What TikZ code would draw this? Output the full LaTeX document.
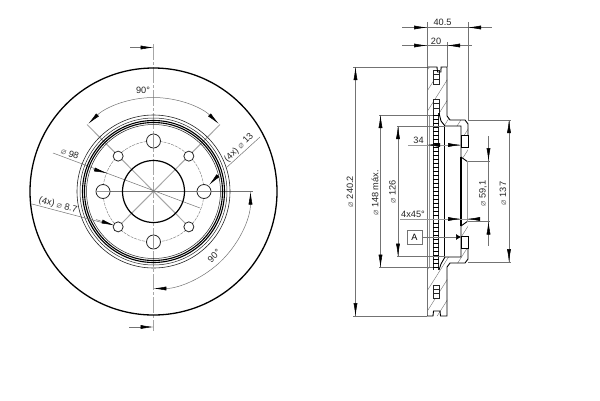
\documentclass[tikz,border=0pt]{standalone}
\usepackage{fontspec}
\setmainfont{Liberation Sans}
\newfontfamily\symfont{DejaVu Sans}
\usetikzlibrary{arrows.meta,calc}
\newcommand{\dia}{{\symfont\fontsize{9}{9}\selectfont\color{black!55}⌀}}
\tikzset{
  dimline/.style={draw=black!55,line width=0.5pt},
  dimarrow/.style={draw=black!55,line width=0.5pt,-{Latex[length=13pt,width=4pt,black]}},
  axisline/.style={draw=black!35,line width=1pt},
  dashaxis/.style={draw=black!35,line width=1.1pt,dash pattern=on 16pt off 2pt on 3pt off 2pt},
  pitch/.style={draw=black!50,line width=0.45pt,dash pattern=on 3pt off 1pt},
  contour/.style={draw=black,line width=0.9pt},
  heavy/.style={draw=black,line width=1.6pt},
  thin contour/.style={draw=black!85,line width=0.6pt},
  hatchline/.style={draw=black!55,line width=0.4pt},
  dimtext/.style={font=\fontsize{9.2}{10}\selectfont,text=black!85,inner sep=0pt},
}
\begin{document}
\begin{tikzpicture}[x=1pt,y=-1pt]
\useasboundingbox[fill=white] (0,0) rectangle (600,400);
\coordinate (c) at (153.5,191.5);
% ---------- axes of the front view
\draw[dashaxis] (153.5,44) -- (153.5,331);
\draw[axisline] (87,124.5) -- (189,227);
\draw[axisline] (220,124.5) -- (118,227);
\draw[dimline] (53,153) -- (200,208);
\draw[dimline] (96,191.5) -- (253,191.5);
% pitch circle
\draw[pitch] (c) circle[radius=50.5];
% ---------- disc
\draw[contour,line width=1.3pt] (c) circle[radius=123.5];
\draw[thin contour] (c) circle[radius=76.5];
\draw[thin contour,line width=0.5pt] (c) circle[radius=73.5];
\draw[heavy,line width=1.1pt] (c) circle[radius=71];
\draw[heavy,line width=1.1pt] (c) circle[radius=69];
\draw[thin contour,line width=0.5pt] (c) circle[radius=67];
\draw[contour,line width=1.2pt] (c) circle[radius=31];
\foreach \a in {0,90,180,270}
  \draw[thin contour,line width=0.8pt,fill=white] ($(c)+(\a:50.5)$) circle[radius=7];
\foreach \a in {45,135,225,315}
  \draw[thin contour,line width=0.8pt,fill=white] ($(c)+(\a:50)$) circle[radius=5];
\draw[dimline,draw=black!40] (96,191.5) -- (110,191.5) (197,191.5) -- (211,191.5) (153.5,134) -- (153.5,148) (153.5,235) -- (153.5,249);
% ---------- section arrows
\draw[dimarrow] (130,47.5) -- (153.5,47.5);
\draw[dimarrow] (129,327) -- (153.5,327);
% ---------- 90 top
\draw[dimarrow] (153.5,97.5) arc[start angle=-90,end angle=-134,radius=94];
\draw[dimarrow] (153.5,97.5) arc[start angle=-90,end angle=-46,radius=94];
\node[dimtext] (ninetytop) at (143,90.5) {90°};
% ---------- 90 bottom
\draw[dimarrow] (219.65,262.44) arc[start angle=47,end angle=0,radius=97];
\draw[dimarrow] (219.65,262.44) arc[start angle=47,end angle=90,radius=97];
\node[dimtext,rotate=45] (ninetybot) at (214,256) {90°};
% ---------- leaders
\draw[dimarrow] (93,169) -- (107,173.2);
\node[dimtext,rotate=-20] (d98) at (70,153.5) {\dia\ 98};
\draw[dimline] (32,204) -- (102,222.5);
\draw[dimarrow] (96,219.5) -- (114.5,225.5);
\node[dimtext,rotate=-15] (d87) at (58,205) {(4x) \dia\ 8.7};
\draw[dimline] (260,137) -- (226,168);
\draw[dimarrow] (221,172.5) -- (209,185);
\node[dimtext,rotate=45] (d13) at (239,148) {(4x) \dia\ 13};
% ---------- section: hatching
\begin{scope}
\clip (427,67) -- (447,67) -- (447,116) -- (450,120) -- (465,120) -- (468,124) -- (468,135) -- (461,135) -- (461,126) -- (445,126) -- (441,121) -- (439,113) -- (433,113) -- (433,115) -- (427,115) -- cycle
  (461,147) -- (468,147) -- (468,162) -- (461,155) -- cycle
  (427,316) -- (447,316) -- (447,267) -- (450,263) -- (465,263) -- (468,259) -- (468,248) -- (461,248) -- (461,257) -- (445,257) -- (441,264) -- (439,270) -- (433,270) -- (433,268) -- (427,268) -- cycle
  (461,236) -- (468,236) -- (468,221) -- (461,228) -- cycle;
\foreach \k in {0,...,16}
  \draw[hatchline] (300+\k*13,210) -- ++(120,-190);
\foreach \k in {0,...,16}
  \draw[hatchline] (370+\k*13,340) -- ++(100,-158);
\end{scope}
% ---------- section: vents and ladder
\foreach \ya/\yb in {70/84,99/113,285/298}{
  \fill[white] (433,\ya) rectangle (439,\yb);
  \draw[thin contour,line width=0.7pt] (433,\ya) rectangle (439,\yb);
  \draw[thin contour,line width=0.5pt] (433,\ya+4.5) -- (439,\ya+4.5) (433,\yb-4.5) -- (439,\yb-4.5);
}
\fill[white] (433,113) rectangle (439,270);
\draw[thin contour,line width=0.9pt] (433,113) -- (433,270) (438.5,113) -- (438.5,270);
\foreach \k in {0,...,38}
  \draw[black,line width=0.7pt] (433,115+\k*4) -- (438.5,115+\k*4);
% ---------- section: contours
\draw[axisline,line width=1.1pt,black!55] (427.5,67) -- (427.5,316);
\draw[axisline,line width=1pt,black!40] (429.5,115) -- (429.5,268);
\draw[contour] (427,67) -- (437,67) -- (437.5,72) -- (441,72) -- (441,67) -- (447,67) -- (447,116) -- (450,120) -- (465,120) -- (468,124) -- (468,135);
\draw[contour] (427,316) -- (433,316) -- (433.5,311) -- (440,311) -- (440.5,316) -- (447,316) -- (447,267) -- (450,263) -- (465,263) -- (468,259) -- (468,248);
\draw[contour] (439,113) -- (441,121) -- (445,126) -- (461,126) -- (461,157) -- (468,162);
\draw[contour] (439,270) -- (441,264) -- (445,257) -- (461,257) -- (461,226) -- (468,221);
\draw[heavy] (461,157) -- (461,226);
\draw[contour] (444.5,126) -- (444.5,257);
\draw[contour] (461,135) rectangle (468,147);
\draw[contour] (461,236) rectangle (468,248);
\draw[axisline,line width=1.4pt,black!40] (467.5,161) -- (467.5,222);
% ---------- dimensions above
\draw[dimline] (427,22) -- (427,67);
\draw[dimline] (468,22) -- (468,120);
\draw[dimline] (447,42) -- (447,67);
\draw[dimline] (402,27.5) -- (492,27.5);
\draw[dimarrow] (413,27.5) -- (427,27.5);
\draw[dimarrow] (481,27.5) -- (468,27.5);
\node[dimtext] (d405) at (442.5,22.5) {40.5};
\draw[dimline] (402,45.5) -- (472,45.5);
\draw[dimarrow] (413,45.5) -- (427,45.5);
\draw[dimarrow] (460,45.5) -- (447,45.5);
\node[dimtext] (d20) at (436,41) {20};
% ---------- vertical dimensions left
\draw[dimline] (353,67) -- (427,67);
\draw[dimline] (353,316) -- (427,316);
\draw[dimline] (355.5,67) -- (355.5,316);
\draw[dimarrow] (355.5,81) -- (355.5,67);
\draw[dimarrow] (355.5,302) -- (355.5,316);
\node[dimtext,rotate=90] (d240) at (350,191.5) {\dia\ 240.2};
\draw[dimline] (379,115) -- (433,115);
\draw[dimline] (379,267.5) -- (433,267.5);
\draw[dimline] (380.5,115) -- (380.5,267.5);
\draw[dimarrow] (380.5,129) -- (380.5,115);
\draw[dimarrow] (380.5,254) -- (380.5,267.5);
\node[dimtext,rotate=90] (d148) at (375,193) {\dia\ 148 máx.};
\draw[dimline] (397,126) -- (445,126);
\draw[dimline] (397,256.5) -- (445,256.5);
\draw[dimline] (398,126) -- (398,256.5);
\draw[dimarrow] (398,139) -- (398,126);
\draw[dimarrow] (398,243) -- (398,256.5);
\node[dimtext,rotate=90] (d126) at (392.5,192) {\dia\ 126};
% ---------- 34
\draw[dimline,draw=black!40] (408,145) -- (461,145);
\draw[dimarrow] (439,145) -- (427,145);
\draw[dimarrow] (449,145) -- (461,145);
\node[dimtext] (d34) at (418.5,140) {34};
% ---------- 4x45
\draw[dimline,draw=black!40] (400,219) -- (478,219);
\draw[dimarrow] (449,219) -- (461,219);
\draw[dimarrow] (479,219) -- (467,219);
\node[dimtext] (d445) at (413,214) {4x45°};
% ---------- A
\node[draw=black!55,line width=0.6pt,minimum width=15pt,minimum height=14pt,inner sep=0pt,font=\fontsize{9.2}{10}\selectfont] (boxa) at (414.5,237) {A};
\coordinate (atip) at (461,237);
\draw[draw=black!55,line width=0.5pt,-{Latex[length=5pt,width=6pt,black]}] (boxa) -- (atip);
% ---------- dimensions right
\draw[dimline] (468,161) -- (490,161);
\draw[dimline] (468,221.5) -- (490,221.5);
\draw[dimline] (488.5,136) -- (488.5,246);
\draw[dimarrow] (488.5,148) -- (488.5,161);
\draw[dimarrow] (488.5,235) -- (488.5,221.5);
\node[dimtext,rotate=90] (d59) at (483,193.5) {\dia\ 59,1};
\draw[dimline] (468,120) -- (511,120);
\draw[dimline] (468,262) -- (511,262);
\draw[dimline] (509,120) -- (509,262);
\draw[dimarrow] (509,133) -- (509,120);
\draw[dimarrow] (509,249) -- (509,262);
\node[dimtext,rotate=90] (d137) at (503,193.5) {\dia\ 137};
\end{tikzpicture}
\end{document}
